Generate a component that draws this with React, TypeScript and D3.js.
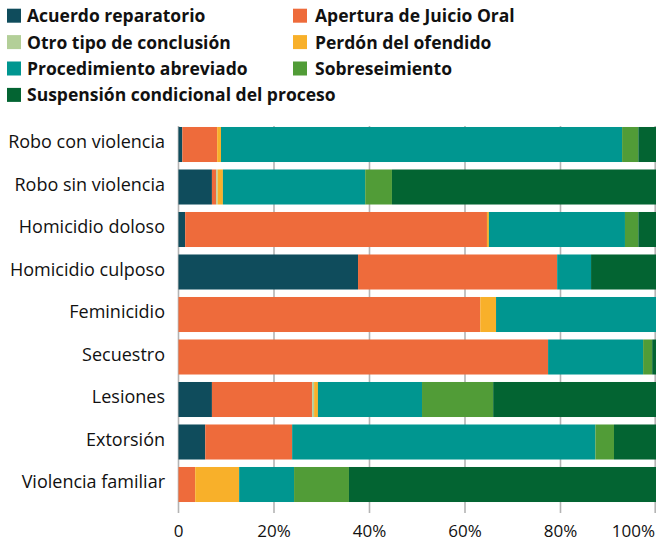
import React from "react";
import * as d3 from "d3";

const categories = [
  "Robo con violencia",
  "Robo sin violencia",
  "Homicidio doloso",
  "Homicidio culposo",
  "Feminicidio",
  "Secuestro",
  "Lesiones",
  "Extorsión",
  "Violencia familiar",
];

const seriesNames = [
  "Acuerdo reparatorio",
  "Apertura de Juicio Oral",
  "Otro tipo de conclusión",
  "Perdón del ofendido",
  "Procedimiento abreviado",
  "Sobreseimiento",
  "Suspensión condicional del proceso",
];

const seriesColors = ["#0f4c5c", "#ee6b3b", "#b3cf98", "#f8b02a", "#009690", "#519c37", "#036432"];

// values in % per category, in seriesNames order
const acuerdo = [0.8, 7.0, 1.4, 37.6, 0, 0, 7.0, 5.6, 0];
const apertura = [7.3, 0.9, 63.2, 41.7, 63.2, 77.4, 21.0, 18.2, 3.5];
const otro = [0, 0.3, 0, 0, 0, 0, 0.4, 0, 0];
const perdon = [0.8, 1.1, 0.4, 0, 3.3, 0, 0.8, 0, 9.2];
const abreviado = [84.0, 29.8, 28.5, 7.1, 33.5, 19.9, 21.8, 63.5, 11.5];
const sobreseimiento = [3.4, 5.6, 2.8, 0, 0, 1.9, 14.9, 3.9, 11.5];
const suspension = [3.7, 55.3, 3.7, 13.6, 0, 0.8, 34.1, 8.8, 64.3];

const seriesValues = [acuerdo, apertura, otro, perdon, abreviado, sobreseimiento, suspension];

const xTicks = [0, 20, 40, 60, 80, 100];
const xTickLabels = ["0", "20%", "40%", "60%", "80%", "100%"];

const W = 656;
const H = 541;
const FONT = "'Open Sans', 'Noto Sans', sans-serif";

export default function App() {
  const x = d3.scaleLinear().domain([0, 100]).range([178.5, 656]);
  const y = d3
    .scaleBand<string>()
    .domain(categories)
    .range([123.25, 123.25 + 9 * 42.5])
    .paddingInner(0.176)
    .paddingOuter(0.088);

  const rows = categories.map((c, i) => {
    const vals = seriesValues.map((s) => s[i]);
    const total = d3.sum(vals);
    let acc = 0;
    const segs = vals.map((v, k) => {
      const x0 = (acc / total) * 100;
      acc += v;
      const x1 = (acc / total) * 100;
      return { k, x0, x1, v };
    });
    return { c, segs };
  });

  const legendCols = [27, 315];
  const legendSq = [7, 293];

  return (
    <svg
      width={W}
      height={H}
      style={{ position: "fixed", left: 0, top: 0, background: "#fff" }}
      fontFamily={FONT}
    >
      {/* legend */}
      {seriesNames.map((n, i) => {
        const col = i % 2;
        const row = Math.floor(i / 2);
        const cy = 15.7 + row * 26.4;
        return (
          <g key={n}>
            <rect x={legendSq[col]} y={cy - 7} width={14} height={14} fill={seriesColors[i]} />
            <text
              x={legendCols[col]}
              y={cy + 6.5}
              fontSize={17.5}
              fontWeight={700}
              fill="#111"
            >
              {n}
            </text>
          </g>
        );
      })}

      {/* gridlines */}
      {xTicks.map((t) => (
        <line
          key={t}
          x1={Math.min(x(t), 655.2)}
          x2={Math.min(x(t), 655.2)}
          y1={126}
          y2={513}
          stroke="#b4b4b4"
          strokeWidth={1.6}
        />
      ))}

      {/* bars */}
      {rows.map((r) => (
        <g key={r.c}>
          {r.segs
            .filter((s) => s.v > 0)
            .map((s) => (
              <rect
                key={s.k}
                x={x(s.x0)}
                y={y(r.c)}
                width={Math.max(0, x(s.x1) - x(s.x0))}
                height={y.bandwidth()}
                fill={seriesColors[s.k]}
              />
            ))}
          <text
            x={165}
            y={(y(r.c) as number) + y.bandwidth() / 2 + 3.5}
            textAnchor="end"
            fontSize={18}
            fill="#111"
          >
            {r.c}
          </text>
        </g>
      ))}

      {/* x tick labels */}
      {xTicks.map((t, i) => (
        <text
          key={t}
          x={i === xTicks.length - 1 ? 655 : x(t)}
          y={537}
          textAnchor={i === xTicks.length - 1 ? "end" : "middle"}
          fontSize={17}
          fill="#111"
        >
          {xTickLabels[i]}
        </text>
      ))}
    </svg>
  );
}
